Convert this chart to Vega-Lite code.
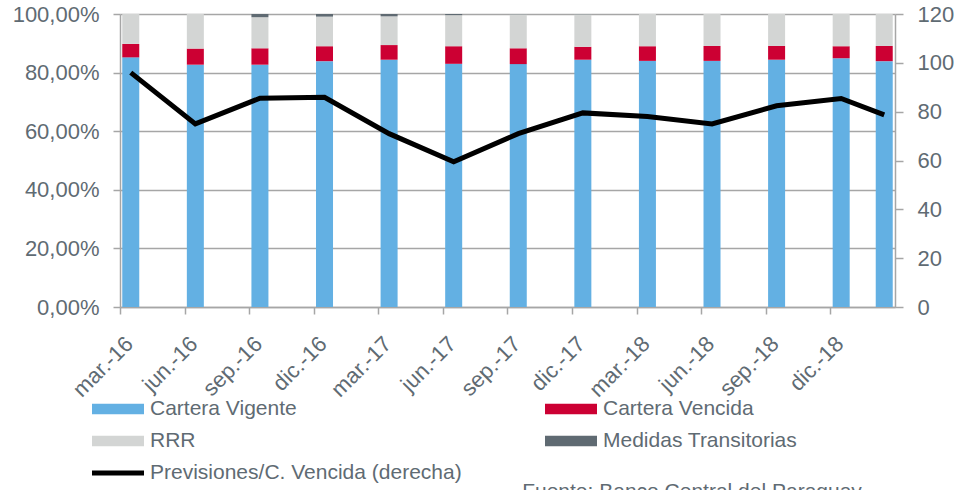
{
  "$schema": "https://vega.github.io/schema/vega-lite/v6.json",
  "autosize": "none",
  "width": 775,
  "height": 293,
  "padding": {"left": 120, "top": 14, "right": 62, "bottom": 183},
  "background": "white",
  "config": {
    "font": "Liberation Sans",
    "view": {"stroke": null},
    "axis": {"labelFont": "Liberation Sans", "labelColor": "#5F6B73", "domainColor": "#A6A6A6", "tickColor": "#A6A6A6", "gridColor": "#A6A6A6", "domainWidth": 1.5, "tickWidth": 1.5, "gridWidth": 1.5},
    "legend": {"labelFont": "Liberation Sans"}
  },
  "title": {"text": "Fuente: Banco Central del Paraguay", "orient": "bottom", "anchor": "start", "dx": 510, "offset": -3, "fontSize": 21, "fontWeight": "normal", "color": "#5F6B73", "font": "Liberation Sans"},
  "datasets": {
    "barras": [
      {"mes": "2016-03", "serie": "Cartera Vigente", "valor": 85.2},
      {"mes": "2016-03", "serie": "Cartera Vencida", "valor": 4.6},
      {"mes": "2016-03", "serie": "RRR", "valor": 10.2},
      {"mes": "2016-03", "serie": "Medidas Transitorias", "valor": 0},
      {"mes": "2016-06", "serie": "Cartera Vigente", "valor": 82.7},
      {"mes": "2016-06", "serie": "Cartera Vencida", "valor": 5.5},
      {"mes": "2016-06", "serie": "RRR", "valor": 11.8},
      {"mes": "2016-06", "serie": "Medidas Transitorias", "valor": 0},
      {"mes": "2016-09", "serie": "Cartera Vigente", "valor": 82.7},
      {"mes": "2016-09", "serie": "Cartera Vencida", "valor": 5.6},
      {"mes": "2016-09", "serie": "RRR", "valor": 10.6},
      {"mes": "2016-09", "serie": "Medidas Transitorias", "valor": 1.1},
      {"mes": "2016-12", "serie": "Cartera Vigente", "valor": 83.9},
      {"mes": "2016-12", "serie": "Cartera Vencida", "valor": 5.1},
      {"mes": "2016-12", "serie": "RRR", "valor": 10.1},
      {"mes": "2016-12", "serie": "Medidas Transitorias", "valor": 0.9},
      {"mes": "2017-03", "serie": "Cartera Vigente", "valor": 84.4},
      {"mes": "2017-03", "serie": "Cartera Vencida", "valor": 5.0},
      {"mes": "2017-03", "serie": "RRR", "valor": 9.8},
      {"mes": "2017-03", "serie": "Medidas Transitorias", "valor": 0.8},
      {"mes": "2017-06", "serie": "Cartera Vigente", "valor": 83.0},
      {"mes": "2017-06", "serie": "Cartera Vencida", "valor": 6.0},
      {"mes": "2017-06", "serie": "RRR", "valor": 10.6},
      {"mes": "2017-06", "serie": "Medidas Transitorias", "valor": 0.4},
      {"mes": "2017-09", "serie": "Cartera Vigente", "valor": 82.9},
      {"mes": "2017-09", "serie": "Cartera Vencida", "valor": 5.4},
      {"mes": "2017-09", "serie": "RRR", "valor": 11.6},
      {"mes": "2017-09", "serie": "Medidas Transitorias", "valor": 0.1},
      {"mes": "2017-12", "serie": "Cartera Vigente", "valor": 84.4},
      {"mes": "2017-12", "serie": "Cartera Vencida", "valor": 4.4},
      {"mes": "2017-12", "serie": "RRR", "valor": 11.1},
      {"mes": "2017-12", "serie": "Medidas Transitorias", "valor": 0.1},
      {"mes": "2018-03", "serie": "Cartera Vigente", "valor": 84.0},
      {"mes": "2018-03", "serie": "Cartera Vencida", "valor": 5.0},
      {"mes": "2018-03", "serie": "RRR", "valor": 11.0},
      {"mes": "2018-03", "serie": "Medidas Transitorias", "valor": 0},
      {"mes": "2018-06", "serie": "Cartera Vigente", "valor": 84.0},
      {"mes": "2018-06", "serie": "Cartera Vencida", "valor": 5.1},
      {"mes": "2018-06", "serie": "RRR", "valor": 10.9},
      {"mes": "2018-06", "serie": "Medidas Transitorias", "valor": 0},
      {"mes": "2018-09", "serie": "Cartera Vigente", "valor": 84.4},
      {"mes": "2018-09", "serie": "Cartera Vencida", "valor": 4.7},
      {"mes": "2018-09", "serie": "RRR", "valor": 10.9},
      {"mes": "2018-09", "serie": "Medidas Transitorias", "valor": 0},
      {"mes": "2018-12", "serie": "Cartera Vigente", "valor": 84.9},
      {"mes": "2018-12", "serie": "Cartera Vencida", "valor": 4.1},
      {"mes": "2018-12", "serie": "RRR", "valor": 11.0},
      {"mes": "2018-12", "serie": "Medidas Transitorias", "valor": 0},
      {"mes": "2019-02", "serie": "Cartera Vigente", "valor": 83.9},
      {"mes": "2019-02", "serie": "Cartera Vencida", "valor": 5.2},
      {"mes": "2019-02", "serie": "RRR", "valor": 10.9},
      {"mes": "2019-02", "serie": "Medidas Transitorias", "valor": 0}
    ],
    "prevision": [
      {"mes": "2016-03", "serie": "Previsiones/C. Vencida (derecha)", "valor": 96.0},
      {"mes": "2016-06", "serie": "Previsiones/C. Vencida (derecha)", "valor": 75.0},
      {"mes": "2016-09", "serie": "Previsiones/C. Vencida (derecha)", "valor": 85.5},
      {"mes": "2016-12", "serie": "Previsiones/C. Vencida (derecha)", "valor": 85.9},
      {"mes": "2017-03", "serie": "Previsiones/C. Vencida (derecha)", "valor": 71.0},
      {"mes": "2017-06", "serie": "Previsiones/C. Vencida (derecha)", "valor": 59.5},
      {"mes": "2017-09", "serie": "Previsiones/C. Vencida (derecha)", "valor": 71.0},
      {"mes": "2017-12", "serie": "Previsiones/C. Vencida (derecha)", "valor": 79.5},
      {"mes": "2018-03", "serie": "Previsiones/C. Vencida (derecha)", "valor": 78.0},
      {"mes": "2018-06", "serie": "Previsiones/C. Vencida (derecha)", "valor": 75.0},
      {"mes": "2018-09", "serie": "Previsiones/C. Vencida (derecha)", "valor": 82.4},
      {"mes": "2018-12", "serie": "Previsiones/C. Vencida (derecha)", "valor": 85.4},
      {"mes": "2019-02", "serie": "Previsiones/C. Vencida (derecha)", "valor": 78.7}
    ]
  },
  "encoding": {
    "x": {
      "field": "mes",
      "type": "ordinal",
      "scale": {
        "domain": ["2016-03","2016-04","2016-05","2016-06","2016-07","2016-08","2016-09","2016-10","2016-11","2016-12","2017-01","2017-02","2017-03","2017-04","2017-05","2017-06","2017-07","2017-08","2017-09","2017-10","2017-11","2017-12","2018-01","2018-02","2018-03","2018-04","2018-05","2018-06","2018-07","2018-08","2018-09","2018-10","2018-11","2018-12","2019-01","2019-02"],
        "paddingInner": 0.21,
        "paddingOuter": 0.105
      },
      "axis": {
        "title": null,
        "values": ["2016-03","2016-06","2016-09","2016-12","2017-03","2017-06","2017-09","2017-12","2018-03","2018-06","2018-09","2018-12"],
        "labelExpr": "['','','','mar','','','jun','','','sep','','','dic'][toNumber(substring(datum.value,5,7))] + '.-' + substring(datum.value,2,4)",
        "labelAngle": -45,
        "labelAlign": "right",
        "labelBaseline": "middle",
        "labelFontSize": 22,
        "tickOffset": -10.77,
        "labelOffset": 9,
        "tickSize": 7,
        "labelPadding": 26
      }
    }
  },
  "layer": [
    {
      "data": {"name": "barras"},
      "transform": [
        {"window": [{"op": "row_number", "as": "pos"}], "groupby": ["mes"]}
      ],
      "mark": {"type": "bar"},
      "encoding": {
        "y": {
          "field": "valor",
          "type": "quantitative",
          "stack": "zero",
          "scale": {"domain": [0, 100], "nice": false},
          "axis": {
            "title": null,
            "values": [0, 20, 40, 60, 80, 100],
            "labelExpr": "replace(format(datum.value, '.2f'), '.', ',') + '%'",
            "labelFontSize": 22,
            "tickSize": 7,
            "labelPadding": 14,
            "grid": true
          }
        },
        "order": {"field": "pos", "type": "quantitative", "sort": "ascending"},
        "color": {
          "field": "serie",
          "type": "nominal",
          "sort": ["Cartera Vigente", "Cartera Vencida", "RRR", "Medidas Transitorias", "Previsiones/C. Vencida (derecha)"],
          "scale": {
            "domain": ["Cartera Vigente", "Cartera Vencida", "RRR", "Medidas Transitorias", "Previsiones/C. Vencida (derecha)"],
            "range": ["#63B0E3", "#CC0033", "#D3D5D4", "#5F6A72", "#000000"]
          },
          "legend": {
            "title": null,
            "orient": "none",
            "legendX": -28,
            "legendY": 384,
            "direction": "horizontal",
            "columns": 2,
            "columnPadding": 83,
            "rowPadding": 10,
            "clipHeight": 22,
            "symbolType": "M-1,-0.2L1,-0.2L1,0.2L-1,0.2Z",
            "symbolSize": 2704,
            "symbolStrokeWidth": 0,
            "labelFontSize": 21,
            "labelColor": "#5F6B73",
            "labelOffset": 6,
            "labelLimit": 400,
            "encode": {
              "symbols": {
                "update": {
                  "shape": {"signal": "datum.value === 'Previsiones/C. Vencida (derecha)' ? 'M-1,-0.1L1,-0.1L1,0.1L-1,0.1Z' : 'M-1,-0.2L1,-0.2L1,0.2L-1,0.2Z'"}
                }
              }
            }
          }
        }
      }
    },
    {
      "data": {"name": "prevision"},
      "mark": {"type": "line", "strokeWidth": 5, "strokeJoin": "miter", "color": "#000000"},
      "encoding": {
        "y": {
          "field": "valor",
          "type": "quantitative",
          "scale": {"domain": [0, 120], "nice": false},
          "axis": {
            "title": null,
            "orient": "right",
            "values": [0, 20, 40, 60, 80, 100, 120],
            "labelFontSize": 22,
            "tickSize": 8,
            "labelPadding": 14,
            "grid": false
          }
        },
        "color": {"field": "serie", "type": "nominal"}
      }
    }
  ],
  "resolve": {"scale": {"y": "independent"}}
}
